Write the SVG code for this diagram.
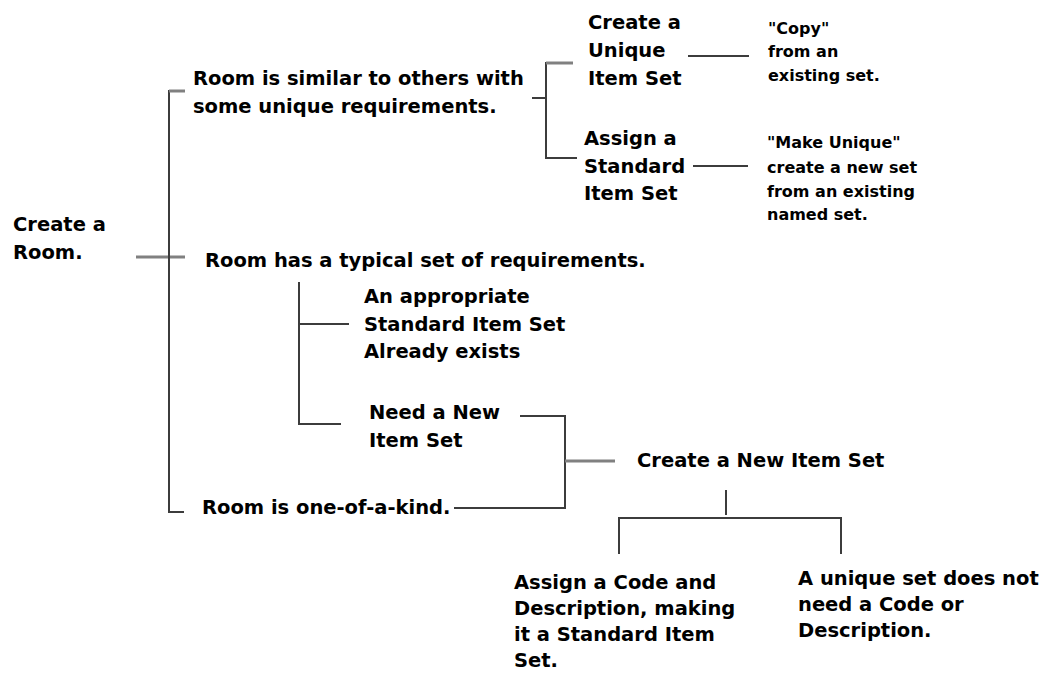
<svg xmlns="http://www.w3.org/2000/svg" width="1042" height="675" viewBox="0 0 1042 675">
<style>
text{font-family:"DejaVu Sans","Verdana",sans-serif;font-weight:bold;fill:#000}
.big{font-size:19.5px}
.small{font-size:16px}
.ln{fill:none;stroke:#3c3c3c;stroke-width:2}
.soft{fill:none;stroke:#808080;stroke-width:3}
</style>
<rect width="1042" height="675" fill="#fff"/>
<g id="connectors">
<path class="soft" d="M136 257H185"/>
<path class="ln" d="M185 91H169V512H184"/>
<path class="soft" d="M169 91H185"/>
<path class="ln" d="M573 63H546V158H577"/>
<path class="soft" d="M546 63H573"/>
<path class="ln" d="M532 98H546"/>
<path class="ln" d="M688 56H749"/>
<path class="ln" d="M693 166H748"/>
<path class="ln" d="M299 282V424H341"/>
<path class="ln" d="M299 324H349"/>
<path class="ln" d="M520 416H565V508H454"/>
<path class="soft" d="M565 461H615"/>
<path class="ln" d="M726 490V515"/>
<path class="ln" d="M619 554V518H841V554"/>
</g>
<g id="n_root"><text class="big" x="13" y="231">Create a</text><text class="big" x="13" y="259">Room.</text></g>
<g id="n_similar"><text class="big" x="193" y="85">Room is similar to others with</text><text class="big" x="193" y="113">some unique requirements.</text></g>
<g id="n_unique"><text class="big" x="588" y="29">Create a</text><text class="big" x="588" y="57">Unique</text><text class="big" x="588" y="85">Item Set</text></g>
<g id="n_copy"><text class="small" x="768" y="34">"Copy"</text><text class="small" x="768" y="57">from an</text><text class="small" x="768" y="81">existing set.</text></g>
<g id="n_standard"><text class="big" x="584" y="145">Assign a</text><text class="big" x="584" y="173">Standard</text><text class="big" x="584" y="200">Item Set</text></g>
<g id="n_make"><text class="small" x="767" y="148">"Make Unique"</text><text class="small" x="767" y="173">create a new set</text><text class="small" x="767" y="197">from an existing</text><text class="small" x="767" y="220">named set.</text></g>
<g id="n_typical"><text class="big" x="205" y="267">Room has a typical set of requirements.</text></g>
<g id="n_exists"><text class="big" x="364" y="303">An appropriate</text><text class="big" x="364" y="331">Standard Item Set</text><text class="big" x="364" y="358">Already exists</text></g>
<g id="n_need"><text class="big" x="369" y="419">Need a New</text><text class="big" x="369" y="447">Item Set</text></g>
<g id="n_onekind"><text class="big" x="202" y="514">Room is one-of-a-kind.</text></g>
<g id="n_createnew"><text class="big" x="637" y="467">Create a New Item Set</text></g>
<g id="n_assigncode"><text class="big" x="514" y="589">Assign a Code and</text><text class="big" x="514" y="615">Description, making</text><text class="big" x="514" y="641">it a Standard Item</text><text class="big" x="514" y="667">Set.</text></g>
<g id="n_uniqueset"><text class="big" x="798" y="585">A unique set does not</text><text class="big" x="798" y="611">need a Code or</text><text class="big" x="798" y="637">Description.</text></g>
</svg>
